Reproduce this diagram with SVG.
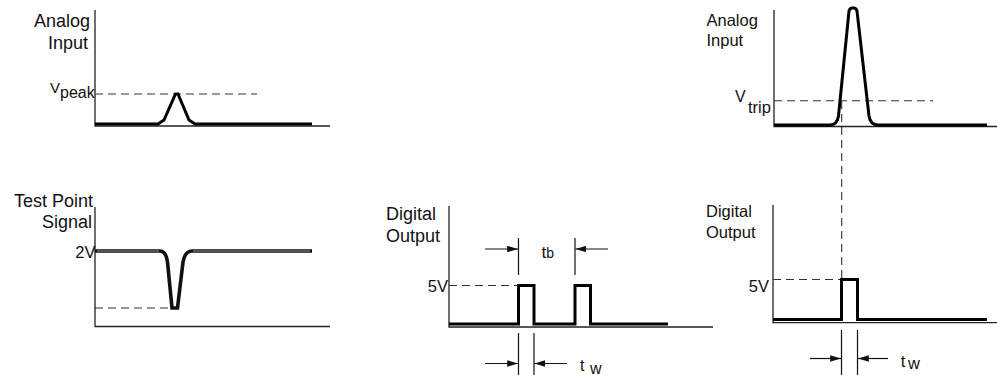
<svg xmlns="http://www.w3.org/2000/svg" width="997" height="375" viewBox="0 0 997 375">
<style>
  .axis { stroke: #222; stroke-width: 1.3; fill: none; }
  .sig { stroke: #000; stroke-width: 3; fill: none; stroke-linejoin: miter; }
  .sig2 { stroke: #111; stroke-width: 3.6; fill: none; }
  .inner { stroke: #9a9a9a; stroke-width: 1; fill: none; }
  .dash { stroke: #333; stroke-width: 1.1; fill: none; stroke-dasharray: 8 5; }
  .dim { stroke: #111; stroke-width: 1.2; fill: none; }
  .lbl { font-family: "Liberation Sans", Arial, sans-serif; fill: #111; }
</style>
<defs>
  <marker id="ah" viewBox="0 0 10 6" refX="10" refY="3" markerWidth="11" markerHeight="6.5" markerUnits="userSpaceOnUse" orient="auto">
    <path d="M0,0 L10,3 L0,6 Z" fill="#111"/>
  </marker>
</defs>
<rect width="997" height="375" fill="#fff"/>

<g id="panel-analog-input-left">
  <path class="axis" d="M95,10 V126 H330"/>
  <path class="dash" d="M95,94 H257"/>
  <path class="sig" d="M95,124 H158 L164,120 L175.5,94 H178 L189,120 L195,124 H312"/>
  <text class="lbl" x="90" y="27" font-size="18" text-anchor="end">Analog</text>
  <text class="lbl" x="88" y="49" font-size="18" text-anchor="end">Input</text>
  <text class="lbl" x="50" y="93" font-size="15">V<tspan dy="5" font-size="16">peak</tspan></text>
</g>

<g id="panel-test-point">
  <path class="axis" d="M95,207 V326.5 H330"/>
  <path class="dash" d="M95,308 H173"/>
  <path class="sig2" d="M95,251 H160 Q166,251 167.5,262 L172,308 H177.5 L183,262 Q185,251 192,251 H312"/>
  <path class="inner" d="M97,251 H159 M193,251 H310"/>
  <text class="lbl" x="93" y="206.5" font-size="18" text-anchor="end">Test Point</text>
  <text class="lbl" x="92" y="228" font-size="18" text-anchor="end">Signal</text>
  <text class="lbl" x="95.5" y="258" font-size="16.5" text-anchor="end">2V</text>
</g>

<g id="panel-digital-output-middle">
  <path class="axis" d="M449,206 V327 H713"/>
  <path class="dash" d="M449,285.5 H518"/>
  <path class="sig" d="M449,324 H518.5 V285.5 H534 V324 H575 V285.5 H590.5 V324 H668"/>
  <text class="lbl" x="386" y="220" font-size="18">Digital</text>
  <text class="lbl" x="386" y="241.5" font-size="18">Output</text>
  <text class="lbl" x="448" y="291.5" font-size="16.5" text-anchor="end">5V</text>
  <text class="lbl" x="541.5" y="258" font-size="17">t<tspan font-size="14">b</tspan></text>
  <text class="lbl" x="580" y="371" font-size="16">t<tspan x="590" y="373.5">w</tspan></text>
</g>

<g id="panel-analog-input-right">
  <path class="axis" d="M774,10 V126.5 H997"/>
  <path class="dash" d="M774,100.7 H933"/>
  <path class="sig" d="M774,125 H830 Q837,125 838.5,116 L849,11 Q850,8 852,8 H854 Q856,8 857,11 L869,116 Q870.5,125 878,125 H987"/>
  <text class="lbl" x="706.5" y="26" font-size="16.5">Analog</text>
  <text class="lbl" x="706.5" y="45.7" font-size="16.5">Input</text>
  <text class="lbl" x="735" y="101.5" font-size="16">V<tspan dx="2.3" dy="11" font-size="16.5">trip</tspan></text>
</g>

<g id="panel-digital-output-right">
  <path class="axis" d="M773,205 V322.7 H997"/>
  <path class="dash" d="M773,279.5 H841"/>
  <path class="sig" d="M773,319.5 H841.5 V279.5 H857.5 V319.5 H987"/>
  <text class="lbl" x="706" y="216.7" font-size="16.5">Digital</text>
  <text class="lbl" x="706" y="238.3" font-size="16.5">Output</text>
  <text class="lbl" x="769" y="291.7" font-size="16.5" text-anchor="end">5V</text>
  <text class="lbl" x="900.7" y="366.7" font-size="16.5">t<tspan x="908" y="368.5">w</tspan></text>
</g>

<g id="connectors">
  <path class="dash" d="M841.7,101 V279.5"/>
  <path class="dim" d="M518.5,238 V275 M575,238 V275"/>
  <path class="dim" marker-end="url(#ah)" d="M485,249 H518"/>
  <path class="dim" marker-end="url(#ah)" d="M608,249 H575.5"/>
  <path class="dim" d="M518.5,333 V375 M534,333 V375"/>
  <path class="dim" marker-end="url(#ah)" d="M485,363.5 H518"/>
  <path class="dim" marker-end="url(#ah)" d="M567,363.5 H534.5"/>
  <path class="dim" d="M841.5,330 V375 M857.5,330 V375"/>
  <path class="dim" marker-end="url(#ah)" d="M810,358.5 H841"/>
  <path class="dim" marker-end="url(#ah)" d="M888,358.5 H858"/>
</g>
</svg>
